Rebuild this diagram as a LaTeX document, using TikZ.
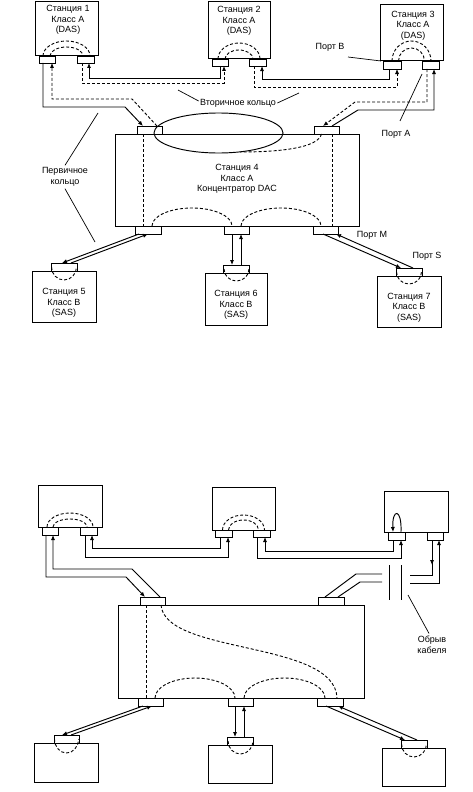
\documentclass[tikz,border=0pt]{standalone}
\usepackage{fontspec}
\setmainfont{Liberation Sans}
\usetikzlibrary{arrows.meta}
\begin{document}
\begin{tikzpicture}[x=1pt,y=-1pt,line width=0.95pt,
  box/.style={draw,line width=1pt,inner sep=0pt,outer sep=0pt},
  port/.style={draw,fill=white,line width=0.9pt,inner sep=0pt,outer sep=0pt,minimum height=8pt},
  txt/.style={font=\fontsize{9}{10.5}\selectfont,align=center,inner sep=0pt},
  sec/.style={dash pattern=on 3pt off 2pt,line width=0.9pt},
  arr/.style={-{Latex[length=5pt,width=4.2pt]}},
  lead/.style={line width=0.7pt}]
\useasboundingbox (0,0) rectangle (472,792);

% ================= TOP DIAGRAM =================
% DAS stations
\node[box,minimum width=63pt,minimum height=54pt] (s1) at (66.5,29) {};
\node[txt] (s1t) at (68,20) {Станция 1\\Класс А\\(DAS)};
\node[box,minimum width=62pt,minimum height=57pt] (s2) at (239,30.5) {};
\node[txt] (s2t) at (239,21) {Станция 2\\Класс А\\(DAS)};
\node[box,minimum width=63pt,minimum height=56pt] (s3) at (411.5,33) {};
\node[txt] (s3t) at (413,25.5) {Станция 3\\Класс А\\(DAS)};
\draw[sec] ([xshift=-23.5pt]s1.south) arc[start angle=180,end angle=360,x radius=23.5,y radius=15];
\draw[sec] ([xshift=-16.5pt]s1.south) arc[start angle=180,end angle=360,x radius=16.5,y radius=9];
\draw[sec] ([xshift=-21pt]s2.south) arc[start angle=180,end angle=360,x radius=21,y radius=16];
\draw[sec] ([xshift=-14pt]s2.south) arc[start angle=180,end angle=360,x radius=14,y radius=9];
\draw[sec] ([xshift=-19.5pt]s3.south) arc[start angle=180,end angle=360,x radius=19.5,y radius=20];
\draw[sec] ([xshift=-13pt]s3.south) arc[start angle=180,end angle=360,x radius=13,y radius=13];
\node[port,minimum width=16pt,minimum height=7pt] (p1l) at (47,59.5) {};
\node[port,minimum width=17pt,minimum height=7pt] (p1r) at (85.5,59.5) {};
\node[port,minimum width=16pt,minimum height=7pt] (p2l) at (220,62.5) {};
\node[port,minimum width=17pt,minimum height=7pt] (p2r) at (257.5,62.5) {};
\node[port,minimum width=18pt] (p3l) at (392,65) {};
\node[port,minimum width=17pt] (p3r) at (430.5,65) {};

% hub
\node[box,minimum width=244pt,minimum height=92pt] (h) at (237,180) {};
\node[txt] (ht) at (237,179) {Станция 4\\Класс А\\Концентратор DAC};
\node[port,minimum width=25pt] (htl) at (149.5,130) {};
\node[port,minimum width=25pt] (htr) at (326.5,130) {};
\node[port,minimum width=26pt] (hbl) at (148,230) {};
\node[port,minimum width=25pt] (hbm) at (236.5,230) {};
\node[port,minimum width=25pt] (hbr) at (325.5,230) {};
\draw[sec] ([xshift=-6.5pt]htl.south) -- ([xshift=-5pt]hbl.north);
\draw[sec] ([xshift=5.5pt]htr.south) -- ([xshift=6.5pt]hbr.north);
\draw[sec] ([xshift=4pt]hbl.north) arc[start angle=180,end angle=360,x radius=40,y radius=18];
\draw[sec] ([xshift=4.5pt]hbm.north) arc[start angle=180,end angle=360,x radius=40,y radius=18];
\coordinate (ec) at (218.5,133);
\draw (ec) ellipse[x radius=64.5,y radius=20];
\coordinate (eb) at (240,152);
\draw[sec] ([xshift=-5pt]htr.south) .. controls (318,148) and (280,152) .. (eb);

% ring connections top
\draw[arr] ([xshift=-4pt]p1l.south) |- (125,107) -- ([xshift=-6.5pt]htl.north);
\draw[sec,arr] ([xshift=7.5pt]htl.north) -- (132,99) -| ([xshift=5pt]p1l.south);
\draw[arr] (p2l.south) -- (220,78) -| ([xshift=3.5pt]p1r.south);
\draw[sec,arr] ([xshift=-3.5pt]p1r.south) -- (82,83) -| ([xshift=4pt]p2l.south);
\draw[arr] ([xshift=-3pt]p3l.south) -- (389,79) -| ([xshift=4.5pt]p2r.south);
\draw[sec,arr] ([xshift=-3.5pt]p2r.south) -- (254,87) -| ([xshift=5pt]p3l.south);
\draw[arr] ([xshift=5.5pt]htr.north) -- (358,110) -| ([xshift=3.5pt]p3r.south);
\draw[sec,arr] ([xshift=-3.5pt]p3r.south) |- (355,102) -- ([xshift=-3.5pt]htr.north);

% SAS stations top
\node[box,minimum width=64pt,minimum height=51pt] (s5) at (64,296.5) {};
\node[txt] (s5t) at (64,303) {Станция 5\\Класс В\\(SAS)};
\node[port,minimum width=26pt] (p5) at (64,267) {};
\draw[sec] ([xshift=-12.5pt]p5.center) arc[start angle=180,end angle=0,x radius=12.5,y radius=13];
\node[box,minimum width=62pt,minimum height=52pt] (s6) at (236,299) {};
\node[txt] (s6t) at (236,305) {Станция 6\\Класс В\\(SAS)};
\node[port,minimum width=26pt] (p6) at (236.5,269) {};
\draw[sec] ([xshift=-12.5pt]p6.center) arc[start angle=180,end angle=0,x radius=12.5,y radius=12];
\node[box,minimum width=64pt,minimum height=51pt] (s7) at (409,301.5) {};
\node[txt] (s7t) at (409,307.5) {Станция 7\\Класс В\\(SAS)};
\node[port,minimum width=26pt] (p7) at (409,272) {};
\draw[sec] ([xshift=-12.5pt]p7.center) arc[start angle=180,end angle=0,x radius=12.5,y radius=12];

\draw[arr] ([xshift=-9pt]hbl.south) -- ([xshift=-2pt]p5.north);
\draw[arr] ([xshift=7pt]p5.north) -- (hbl.south);
\draw[arr] ([xshift=-4.5pt]hbm.south) -- ([xshift=-4.5pt]p6.north);
\draw[arr] ([xshift=4.5pt]p6.north) -- ([xshift=4.5pt]hbm.south);
\draw[arr] ([xshift=-2.5pt]hbr.south) -- ([xshift=-8pt]p7.north);
\draw[arr] ([xshift=4pt]p7.north) -- ([xshift=10.5pt]hbr.south);

% labels top
\node[txt] (lpb) at (330,47) {Порт В};
\coordinate (lpb1) at (348,57);
\draw[lead] (lpb1) -- ([xshift=-2pt]p3l.north west);
\node[txt] (lpa) at (396,134) {Порт А};
\coordinate (lpa1) at (400,121);
\draw[lead] (lpa1) -- ([yshift=-5pt]p3r.south west);
\node[txt] (lvk) at (238,103) {Вторичное кольцо};
\coordinate (lvk1) at (178,90);
\coordinate (lvk2) at (299,93);
\draw[lead] (lvk1) -- ([xshift=-1pt,yshift=2pt]lvk.west);
\draw[lead] (lvk2) -- ([xshift=1pt]lvk.east);
\node[txt] (lpk) at (65,177) {Первичное\\кольцо};
\coordinate (lpk1) at (98,113);
\coordinate (lpk2) at (95,242);
\draw[lead] ([yshift=2pt]lpk.north) -- (lpk1);
\draw[lead] ([yshift=-2pt]lpk.south) -- (lpk2);
\node[txt] (lpm) at (372,235) {Порт М};
\node[txt] (lps) at (427,256) {Порт S};

% ================= BOTTOM DIAGRAM =================
\node[box,minimum width=64pt,minimum height=42pt] (t1) at (70,506) {};
\node[box,minimum width=63pt,minimum height=43pt] (t2) at (243.5,508.5) {};
\node[box,minimum width=64pt,minimum height=41pt] (t3) at (416,511.5) {};
\draw[sec] ([xshift=-23pt]t1.south) arc[start angle=180,end angle=360,x radius=23,y radius=14];
\draw[sec] ([xshift=-17pt]t1.south) arc[start angle=180,end angle=360,x radius=17,y radius=8];
\draw[sec] ([xshift=-21pt]t2.south) arc[start angle=180,end angle=360,x radius=21,y radius=15];
\draw[sec] ([xshift=-15pt]t2.south) arc[start angle=180,end angle=360,x radius=15,y radius=10];
\node[port,minimum width=16pt] (q1l) at (50,531) {};
\node[port,minimum width=17pt] (q1r) at (88.5,531) {};
\node[port,minimum width=17pt,minimum height=7pt] (q2l) at (223.5,533.5) {};
\node[port,minimum width=17pt,minimum height=7pt] (q2r) at (261.5,533.5) {};
\node[port,minimum width=17pt] (q3l) at (396.5,536) {};
\node[port,minimum width=16pt] (q3r) at (435,536) {};
\draw[arr] ([xshift=4.5pt]q3l.north) .. controls (402,508) and (392,508) .. ([xshift=-3.5pt]q3l.north);

% hub'
\node[box,minimum width=246pt,minimum height=93pt] (g) at (241,651.5) {};
\node[port,minimum width=25pt] (gtl) at (152.5,601) {};
\node[port,minimum width=26pt] (gtr) at (331,601) {};
\node[port,minimum width=25pt] (gbl) at (150.5,702) {};
\node[port,minimum width=25pt] (gbm) at (240.5,702) {};
\node[port,minimum width=26pt] (gbr) at (330,702) {};
\draw[sec] ([xshift=-6.5pt]gtl.south) -- ([xshift=-4.5pt]gbl.north);
\draw[sec] ([xshift=8.5pt]gtl.south) .. controls (165,655) and (335,640) .. ([xshift=7pt]gbr.north);
\draw[sec] ([xshift=4.5pt]gbl.north) arc[start angle=180,end angle=360,x radius=40,y radius=20];
\draw[sec] ([xshift=3.5pt]gbm.north) arc[start angle=180,end angle=360,x radius=40.5,y radius=20];

% ring connections bottom
\draw[arr] ([xshift=-4pt]q1l.south) |- (126,577) -- ([xshift=-7.5pt]gtl.north);
\draw[arr] ([xshift=7.5pt]gtl.north) -- (132,569) -| ([xshift=3pt]q1l.south);
\draw[arr] ([xshift=-3.5pt]q2l.south) -- (220,548) -| ([xshift=3.5pt]q1r.south);
\draw[arr] ([xshift=-3.5pt]q1r.south) -- (85,557) -| ([xshift=4.5pt]q2l.south);
\draw[arr] ([xshift=-3.5pt]q3l.south) -- (393,551) -| ([xshift=3.5pt]q2r.south);
\draw[arr] ([xshift=-4.5pt]q2r.south) -- (257,558) -| ([xshift=4.5pt]q3l.south);

% broken cable
\coordinate (bu) at (382,574);
\coordinate (bl) at (382,582);
\draw ([xshift=-6pt]gtr.north) -- (356,574) -- (bu);
\draw ([xshift=7pt]gtr.north) -- (360,582) -- (bl);
\coordinate (k1a) at (389,565); \coordinate (k1b) at (389,600);
\coordinate (k2a) at (401,565); \coordinate (k2b) at (401,600);
\draw (k1a) -- (k1b);
\draw (k2a) -- (k2b);
\coordinate (ru) at (410,575);
\coordinate (rl) at (410,583);
\draw[arr] ([xshift=-3pt]q3r.south) -- ++(0,25);
\draw ([xshift=-3pt,yshift=-22pt]q3r.south) |- (ru);
\draw[arr] (rl) -| ([xshift=4pt]q3r.south);
\node[txt] (lob) at (432,644.5) {Обрыв\\кабеля};
\coordinate (lob1) at (408,595);
\draw[lead] (lob1) -- ([xshift=-3pt,yshift=2pt]lob.north);

% SAS bottom
\node[box,minimum width=64pt,minimum height=39pt] (t5) at (66,762.5) {};
\node[port,minimum width=25pt] (q5) at (66.5,739) {};
\draw[sec] ([xshift=-12pt]q5.center) arc[start angle=180,end angle=0,x radius=12,y radius=14];
\node[box,minimum width=64pt,minimum height=38pt] (t6) at (240,764) {};
\node[port,minimum width=26pt] (q6) at (240.5,741) {};
\draw[sec] ([xshift=-12.5pt]q6.center) arc[start angle=180,end angle=0,x radius=12.5,y radius=13];
\node[box,minimum width=63pt,minimum height=38pt] (t7) at (413.5,767) {};
\node[port,minimum width=26pt] (q7) at (414,744) {};
\draw[sec] ([xshift=-12.5pt]q7.center) arc[start angle=180,end angle=0,x radius=12.5,y radius=13];

\draw[arr] ([xshift=-7.5pt]gbl.south) -- ([xshift=-4.5pt]q5.north);
\draw[arr] ([xshift=4.5pt]q5.north) -- ([xshift=1.5pt]gbl.south);
\draw[arr] ([xshift=-5.5pt]gbm.south) -- ([xshift=-5.5pt]q6.north);
\draw[arr] ([xshift=3.5pt]q6.north) -- ([xshift=3.5pt]gbm.south);
\draw[arr] ([xshift=-4pt]gbr.south) -- ([xshift=-9pt]q7.north);
\draw[arr] ([xshift=3pt]q7.north) -- ([xshift=8pt]gbr.south);
\end{tikzpicture}
\end{document}
